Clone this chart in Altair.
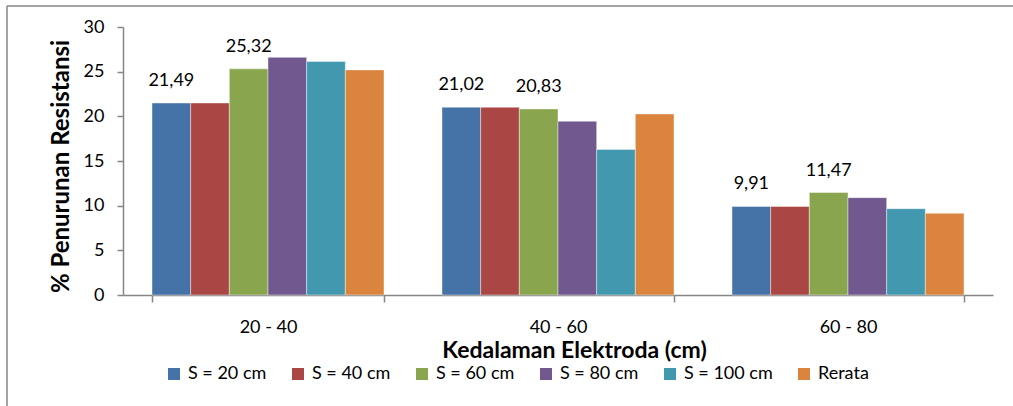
import altair as alt
import pandas as pd

# Depth ranges (x categories) and spacing series
kedalaman = ["20 - 40", "40 - 60", "60 - 80"]
seri = ["S = 20 cm", "S = 40 cm", "S = 60 cm", "S = 80 cm", "S = 100 cm", "Rerata"]

# Percentage drop in resistance per series, one value per depth range
s20 = [21.49, 21.02, 9.91]
s40 = [21.49, 21.02, 9.91]
s60 = [25.32, 20.83, 11.47]
s80 = [26.60, 19.45, 10.90]
s100 = [26.15, 16.30, 9.66]
rerata = [25.20, 20.27, 9.15]

# Series that carry a value label above their bars
berlabel = ["S = 20 cm", "S = 60 cm"]

warna = ["#4572A7", "#AA4643", "#89A54E", "#71588F", "#4198AF", "#DB843D"]

nilai = [s20, s40, s60, s80, s100, rerata]
rows = []
for nama, vals in zip(seri, nilai):
    for k, v in zip(kedalaman, vals):
        rows.append({
            "kedalaman": k,
            "seri": nama,
            "nilai": v,
            "label": f"{v:.2f}".replace(".", ",") if nama in berlabel else "",
        })
df = pd.DataFrame(rows)

FONT = "Lato"
GRAY = "#868686"

x_enc = alt.X(
    "kedalaman:N",
    sort=kedalaman,
    scale=alt.Scale(paddingInner=0.2, paddingOuter=0.1),
    axis=alt.Axis(
        labelAngle=0,
        labelFontSize=18,
        labelColor="#000000",
        labelPadding=16,
        domainColor=GRAY,
        domainWidth=1.5,
        tickColor=GRAY,
        tickWidth=1.5,
        tickSize=7,
        tickBand="extent",
        title="Kedalaman Elektroda (cm)",
        titleFontSize=23,
        titleFontWeight="bold",
        titleColor="#000000",
        titleAlign="center",
        titleBaseline="alphabetic",
        titleX=451,
        titleY=62,
    ),
)
xoff_enc = alt.XOffset("seri:N", sort=seri, scale=alt.Scale(paddingInner=0, paddingOuter=0))
y_enc = alt.Y(
    "nilai:Q",
    scale=alt.Scale(domain=[0, 30], nice=False),
    axis=alt.Axis(
        values=[0, 5, 10, 15, 20, 25, 30],
        grid=False,
        labelFontSize=18,
        labelColor="#000000",
        labelPadding=13,
        domainColor=GRAY,
        domainWidth=1.5,
        tickColor=GRAY,
        tickWidth=1.5,
        tickSize=6,
        title="% Penurunan Resistansi",
        titleFontSize=24,
        titleFontWeight="bold",
        titleColor="#000000",
        titleAngle=-90,
        titleAlign="center",
        titleBaseline="alphabetic",
        titleX=-55,
        titleY=139,
    ),
)

bars = alt.Chart(df).mark_bar(stroke="#ffffff", strokeWidth=0.6, strokeOpacity=0.7).encode(
    x=x_enc,
    xOffset=xoff_enc,
    y=y_enc,
    color=alt.Color(
        "seri:N",
        sort=seri,
        scale=alt.Scale(domain=seri, range=warna),
        legend=alt.Legend(
            title=None,
            orient="none",
            direction="horizontal",
            legendX=42,
            legendY=338,
            padding=0,
            symbolType="square",
            symbolSize=144,
            symbolStrokeWidth=0,
            symbolOpacity=1,
            labelFontSize=18,
            labelColor="#000000",
            labelOffset=5,
            labelBaseline="middle",
            columnPadding=22,
        ),
    ),
)

labels = alt.Chart(df).transform_filter(alt.datum.label != "").mark_text(
    baseline="alphabetic", dy=-17, fontSize=18, color="#000000", font=FONT
).encode(
    x=alt.X("kedalaman:N", sort=kedalaman),
    xOffset=xoff_enc,
    y="nilai:Q",
    text="label:N",
)

# Frame lines along the top and left edge of the chart area
frame_df = pd.DataFrame({"a": [0]})
top_line = alt.Chart(frame_df).mark_rule(color=GRAY, strokeWidth=1.5).encode(
    x=alt.value(-116), x2=alt.value(890), y=alt.value(-21)
)
left_line = alt.Chart(frame_df).mark_rule(color=GRAY, strokeWidth=1.5).encode(
    x=alt.value(-116), y=alt.value(-21), y2=alt.value(379)
)

chart = (
    alt.layer(bars, labels, top_line, left_line)
    .properties(
        width=870,
        height=268,
        autosize=alt.AutoSizeParams(type="none"),
        padding={"left": 123, "top": 27, "right": 20, "bottom": 111},
        background="#ffffff",
    )
    .configure(font=FONT)
    .configure_view(strokeWidth=0)
)

chart.save("out.html", embed_options={"renderer": "svg", "actions": False})
